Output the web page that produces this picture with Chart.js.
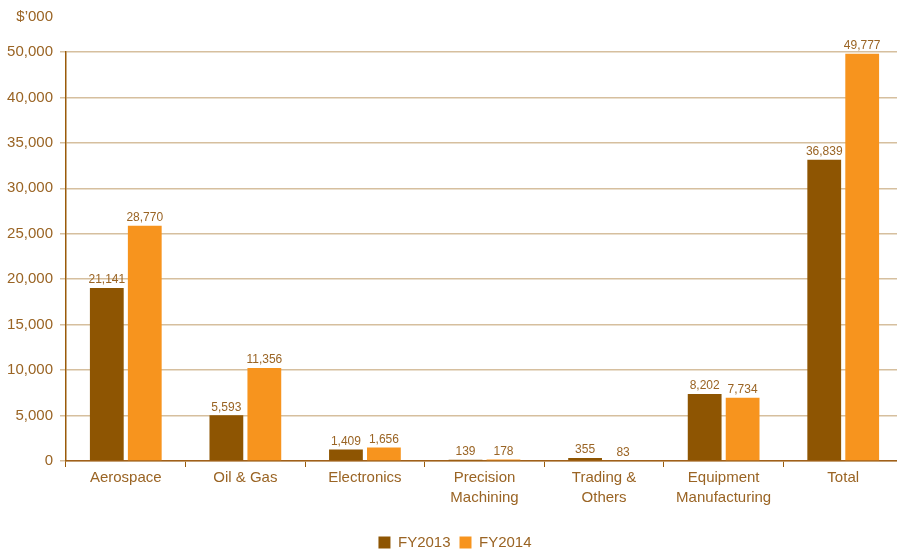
<!DOCTYPE html>
<html>
<head>
<meta charset="utf-8">
<script src="https://cdn.jsdelivr.net/npm/chart.js@4"></script>
<style>
  html, body { margin: 0; padding: 0; background: #fff; overflow: hidden; }
  #wrap { width: 903px; height: 560px; }
</style>
</head>
<body>
<div id="wrap"><canvas id="barChart"></canvas></div>
<script>
const categories = ['Aerospace', 'Oil & Gas', 'Electronics', ['Precision', 'Machining'], ['Trading &', 'Others'], ['Equipment', 'Manufacturing'], 'Total'];
const fy2013 = [21141, 5593, 1409, 139, 355, 8202, 36839];
const fy2014 = [28770, 11356, 1656, 178, 83, 7734, 49777];
// the source axis skips 45,000: ten evenly spaced ticks, top one reads 50,000
const yTickLabels = ['0', '5,000', '10,000', '15,000', '20,000', '25,000', '30,000', '35,000', '40,000', '50,000'];
const yMax = 50000;

const textColor = '#9a6424';
const font = "'Liberation Sans', Arial, sans-serif";

const valueLabels = {
  id: 'valueLabels',
  afterDatasetsDraw(chart) {
    const ctx = chart.ctx;
    ctx.save();
    ctx.font = '12px ' + font;
    ctx.fillStyle = textColor;
    ctx.textAlign = 'center';
    ctx.textBaseline = 'bottom';
    chart.data.datasets.forEach((ds, i) => {
      chart.getDatasetMeta(i).data.forEach((bar, j) => {
        ctx.fillText(ds.data[j].toLocaleString('en-US'), bar.x, bar.y - 2);
      });
    });
    ctx.restore();
  }
};

const unitLabel = {
  id: 'unitLabel',
  afterDraw(chart) {
    const ctx = chart.ctx;
    ctx.save();
    ctx.font = '15px ' + font;
    ctx.fillStyle = textColor;
    ctx.textAlign = 'right';
    ctx.textBaseline = 'middle';
    ctx.fillText('$\u2019000', chart.scales.y.right - 13, 17);
    ctx.restore();
  }
};

new Chart(document.getElementById('barChart'), {
  type: 'bar',
  data: {
    labels: categories,
    datasets: [{
      label: 'FY2013',
      backgroundColor: '#8e5502',
      data: fy2013
    }, {
      label: 'FY2014',
      backgroundColor: '#f7941e',
      data: fy2014
    }]
  },
  options: {
    responsive: true,
    maintainAspectRatio: false,
    animation: false,
    categoryPercentage: 0.635,
    barPercentage: 0.89,
    layout: { padding: { left: 7, top: 52, right: 0, bottom: 0 } },
    scales: {
      x: {
        afterFit: s => { s.height = 65; },
        grid: { drawOnChartArea: false, tickLength: 6, color: '#9a5b0a' },
        border: { color: '#a0601a', width: 1.5 },
        ticks: { color: textColor, font: { family: font, size: 15, lineHeight: 1.33 }, padding: 1, maxRotation: 0, autoSkip: false }
      },
      y: {
        min: 0,
        max: yMax,
        afterBuildTicks: s => { s.ticks = yTickLabels.map((t, i) => ({ value: i * yMax / 9 })); },
        afterFit: s => { s.width = 59; },
        grid: { color: '#d6bf9e', lineWidth: 1.5, tickLength: 6 },
        border: { color: '#9a5b0a', width: 1.5 },
        ticks: { color: textColor, font: { family: font, size: 15 }, padding: 7, callback: (v, i) => yTickLabels[i] }
      }
    },
    plugins: {
      legend: {
        position: 'bottom',
        labels: { color: textColor, boxWidth: 12, boxHeight: 12, padding: 9, font: { family: font, size: 15 } }
      },
      tooltip: { enabled: false }
    }
  },
  plugins: [valueLabels, unitLabel]
});
</script>
</body>
</html>
